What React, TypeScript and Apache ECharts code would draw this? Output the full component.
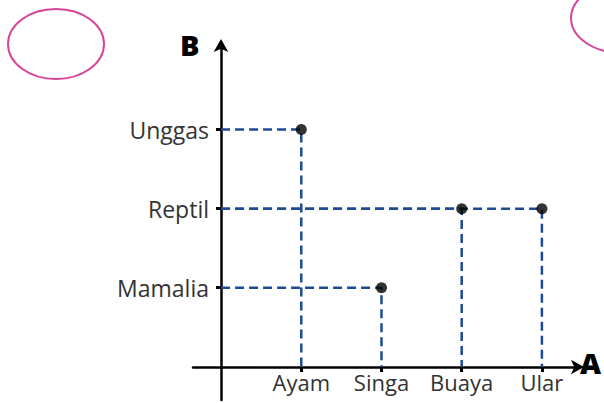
import React, { useEffect, useRef } from "react";
import * as echarts from "echarts";

const xCategories = ["Ayam", "Singa", "Buaya", "Ular"];
const yCategories = ["Mamalia", "Reptil", "Unggas"];
const pairs: [string, string][] = [
  ["Ayam", "Unggas"],
  ["Singa", "Mamalia"],
  ["Buaya", "Reptil"],
  ["Ular", "Reptil"],
];
const xAxisName = "A";
const yAxisName = "B";

const xVal = (n: string) => xCategories.indexOf(n) + 1;
const yVal = (n: string) => yCategories.indexOf(n) + 1;

export default function App() {
  const ref = useRef<HTMLDivElement>(null);
  useEffect(() => {
    if (!ref.current) return;
    const chart = echarts.init(ref.current, null, { renderer: "svg" });
    const font = "'Open Sans', sans-serif";
    const dashed = pairs.map(([a, b]) => ({
      type: "line",
      data: [
        [0, yVal(b)],
        [xVal(a), yVal(b)],
        [xVal(a), 0],
      ],
      symbol: "none",
      lineStyle: { color: "#1d4b92", width: 2.5, type: [9, 5] },
      z: 2,
    }));
    chart.setOption({
      animation: false,
      backgroundColor: "#ffffff",
      grid: {
        left: 193,
        right: 26,
        top: 45,
        bottom: 3,
        containLabel: false,
        outerBoundsMode: "none",
      },
      xAxis: {
        type: "value",
        position: "bottom",
        offset: -33,
        min: -0.35,
        max: 4.45,
        splitLine: { show: false },
        axisLine: {
          onZero: false,
          symbol: ["none", "arrow"],
          symbolSize: [11, 13],
          symbolOffset: [0, 6],
          lineStyle: { color: "#000", width: 2.5 },
        },
        axisTick: {
          show: true,
          customValues: xCategories.map((_, i) => i + 1),
          length: 5,
          lineStyle: { color: "#000", width: 3 },
        },
        axisLabel: {
          customValues: xCategories.map((_, i) => i + 1),
          formatter: (v: number) => xCategories[Math.round(v) - 1] ?? "",
          color: "#333",
          fontFamily: font,
          fontSize: 22,
          margin: 4,
        },
      },
      yAxis: {
        type: "value",
        position: "left",
        offset: -28,
        min: -0.42,
        max: 4.07,
        splitLine: { show: false },
        axisLine: {
          onZero: false,
          symbol: ["none", "arrow"],
          symbolSize: [11, 13],
          symbolOffset: [0, 6],
          lineStyle: { color: "#000", width: 2.5 },
        },
        axisTick: {
          show: true,
          customValues: yCategories.map((_, i) => i + 1),
          length: 5,
          lineStyle: { color: "#000", width: 3 },
        },
        axisLabel: {
          customValues: yCategories.map((_, i) => i + 1),
          formatter: (v: number) => yCategories[Math.round(v) - 1] ?? "",
          color: "#333",
          fontFamily: font,
          fontSize: 23,
          margin: 12,
        },
      },
      series: [
        ...dashed,
        {
          type: "scatter",
          data: pairs.map(([a, b]) => [xVal(a), yVal(b)]),
          symbolSize: 11,
          itemStyle: { color: "#000" },
          z: 5,
        },
      ],
      graphic: [
        {
          type: "ellipse",
          shape: { cx: 56, cy: 44, rx: 48, ry: 35 },
          style: { fill: "none", stroke: "#d6459a", lineWidth: 2 },
        },
        {
          type: "ellipse",
          shape: { cx: 622, cy: 18, rx: 51, ry: 35 },
          style: { fill: "none", stroke: "#d6459a", lineWidth: 2 },
        },
        {
          type: "text",
          x: 180,
          y: 30,
          style: {
            text: yAxisName,
            fontFamily: font,
            fontWeight: 800,
            fontSize: 29,
            fill: "#000",
          },
        },
        {
          type: "text",
          x: 580,
          y: 348,
          style: {
            text: xAxisName,
            fontFamily: font,
            fontWeight: 800,
            fontSize: 29,
            fill: "#000",
          },
        },
      ],
    });
    return () => chart.dispose();
  }, []);
  return <div ref={ref} style={{ width: 604, height: 403, position: "fixed", left: 0, top: 0 }} />;
}
